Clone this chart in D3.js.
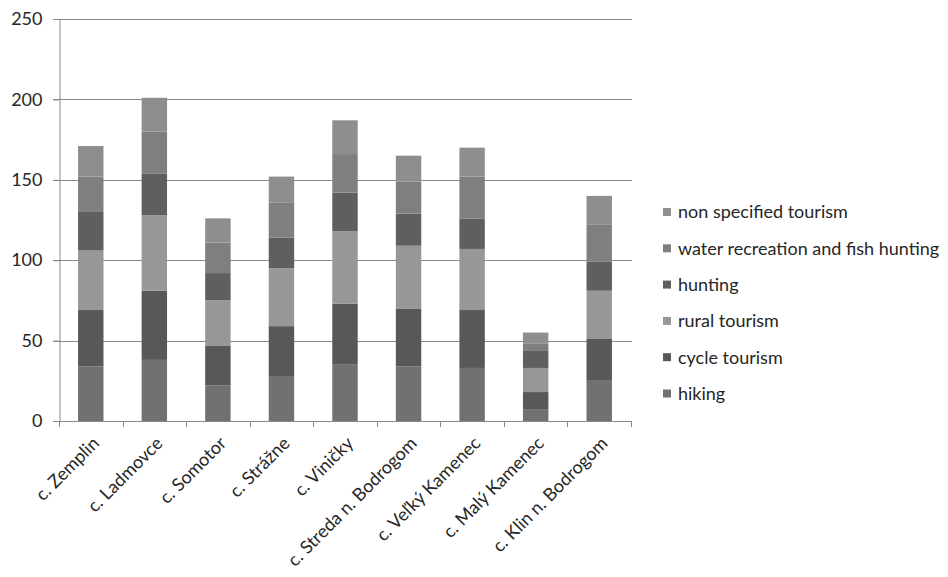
<!DOCTYPE html>
<html>
<head>
<meta charset="utf-8">
<script src="https://cdn.jsdelivr.net/npm/d3@7"></script>
<style>
  html, body { margin: 0; padding: 0; background: #fff; }
  svg { display: block; font-family: Lato, "Open Sans", sans-serif; }
</style>
</head>
<body>
<svg id="chart" width="948" height="577"></svg>
<script>
// Municipalities (x categories)
const categories = [
  "c. Zemplin", "c. Ladmovce", "c. Somotor", "c. Strážne", "c. Viničky",
  "c. Streda n. Bodrogom", "c. Veľký Kamenec", "c. Malý Kamenec", "c. Klin n. Bodrogom"
];

// Stacked series, bottom to top
const seriesNames = [
  "hiking", "cycle tourism", "rural tourism", "hunting",
  "water recreation and fish hunting", "non specified tourism"
];
const hiking      = [34, 38, 22, 28, 35, 34, 33, 7, 25];
const cycle       = [35, 43, 25, 31, 38, 36, 36, 11, 26];
const rural       = [37, 47, 28, 36, 45, 39, 38, 15, 30];
const hunting     = [24, 26, 17, 19, 24, 20, 19, 11, 18];
const water       = [22, 26, 19, 22, 24, 20, 26, 4, 23];
const nonSpecified = [19, 21, 15, 16, 21, 16, 18, 7, 18];

const yTicks = [0, 50, 100, 150, 200, 250];

const seriesColors = ["#717171", "#585858", "#979797", "#5f5f5f", "#7f7f7f", "#8e8e8e"];

const seriesValues = [hiking, cycle, rural, hunting, water, nonSpecified];
const rows = categories.map((c, i) => {
  const r = { category: c };
  seriesNames.forEach((s, k) => { r[s] = seriesValues[k][i]; });
  return r;
});

const svg = d3.select("#chart");
const margin = { left: 59, top: 19, right: 317, bottom: 156 };
const W = 948, H = 577;
const plotW = W - margin.left - margin.right;
const plotH = H - margin.top - margin.bottom;
const fontSize = 18;
const textColor = "#262626";

const x = d3.scaleBand().domain(categories).range([margin.left, margin.left + plotW])
  .paddingInner(0.6).paddingOuter(0.3);
const y = d3.scaleLinear().domain([0, 250]).range([margin.top + plotH, margin.top]);

const color = d3.scaleOrdinal().domain(seriesNames).range(seriesColors);

// Gridlines with short left ticks
svg.append("g")
  .selectAll("line")
  .data(yTicks.filter(t => t > 0))
  .join("line")
  .attr("x1", margin.left - 6)
  .attr("x2", margin.left + plotW + 1)
  .attr("y1", d => Math.round(y(d)) + 0.5)
  .attr("y2", d => Math.round(y(d)) + 0.5)
  .attr("stroke", "#8a8a8a")
  .attr("stroke-width", 1);

// Y axis
const yAxis = svg.append("g")
  .attr("transform", `translate(${margin.left + 0.5},0)`)
  .call(d3.axisLeft(y).tickValues(yTicks).tickSize(6).tickPadding(11));
yAxis.select(".domain").attr("stroke", "#8a8a8a");
yAxis.selectAll(".tick line").attr("stroke", "#8a8a8a");
yAxis.selectAll(".tick text")
  .attr("font-size", fontSize).attr("fill", textColor).attr("font-family", "Lato, sans-serif");

// Stacked bars
const stack = d3.stack().keys(seriesNames);
const layers = stack(rows);
svg.append("g")
  .selectAll("g")
  .data(layers)
  .join("g")
  .attr("fill", d => color(d.key))
  .selectAll("rect")
  .data(d => d)
  .join("rect")
  .attr("x", d => x(d.data.category))
  .attr("width", x.bandwidth())
  .attr("y", d => y(d[1]))
  .attr("height", d => y(d[0]) - y(d[1]));

// X axis with boundary ticks
const x0 = margin.left, x1 = margin.left + plotW;
const step = plotW / categories.length;
const xAxis = svg.append("g");
xAxis.append("line")
  .attr("x1", x0 - 6).attr("x2", x1 + 1)
  .attr("y1", Math.round(y(0)) + 0.5).attr("y2", Math.round(y(0)) + 0.5)
  .attr("stroke", "#8a8a8a");
xAxis.selectAll("line.tk")
  .data(d3.range(categories.length + 1))
  .join("line")
  .attr("class", "tk")
  .attr("x1", i => Math.round(x0 + i * step) + 0.5)
  .attr("x2", i => Math.round(x0 + i * step) + 0.5)
  .attr("y1", Math.round(y(0)))
  .attr("y2", Math.round(y(0)) + 6)
  .attr("stroke", "#8a8a8a");

xAxis.selectAll("text")
  .data(categories)
  .join("text")
  .attr("transform", d => `translate(${x(d) + x.bandwidth() / 2 + 5},${y(0) + 19}) rotate(-45)`)
  .attr("text-anchor", "end")
  .attr("dy", "0.35em")
  .attr("font-size", fontSize)
  .attr("fill", textColor)
  .text(d => d);

// Legend, top series first
const legendOrder = seriesNames.slice().reverse();
const legend = svg.append("g").attr("transform", "translate(663,212)");
const item = legend.selectAll("g")
  .data(legendOrder)
  .join("g")
  .attr("transform", (d, i) => `translate(0,${i * 36.3})`);
item.append("rect")
  .attr("x", 0).attr("y", -4).attr("width", 8).attr("height", 8)
  .attr("fill", d => color(d));
item.append("text")
  .attr("x", 15).attr("dy", "0.35em")
  .attr("font-size", fontSize).attr("fill", textColor)
  .text(d => d);
</script>
</body>
</html>
